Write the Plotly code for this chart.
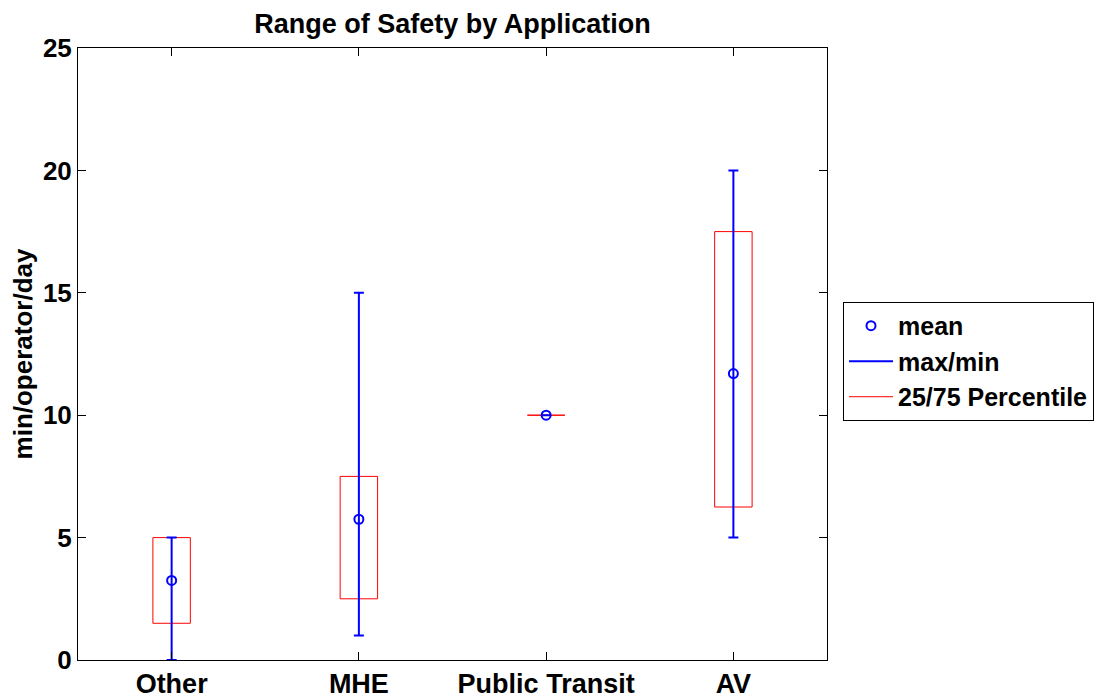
import plotly.graph_objects as go

categories = ["Other", "MHE", "Public Transit", "AV"]
mean_vals = [3.25, 5.75, 10.0, 11.7]
min_vals = [0.0, 1.0, 10.0, 5.0]
max_vals = [5.0, 15.0, 10.0, 20.0]
p25_vals = [1.5, 2.5, 10.0, 6.25]
p75_vals = [5.0, 7.5, 10.0, 17.5]
y_ticks = [0, 5, 10, 15, 20, 25]

pos = list(range(1, len(categories) + 1))
half_w = 0.1
FONT = "Liberation Sans, Arial, sans-serif"

fig = go.Figure()

# 25/75 percentile boxes
bx, by = [], []
for p, lo, hi in zip(pos, p25_vals, p75_vals):
    bx += [p - half_w, p + half_w, p + half_w, p - half_w, p - half_w, None]
    by += [lo, lo, hi, hi, lo, None]
fig.add_trace(go.Scatter(x=bx, y=by, mode="lines", line=dict(color="red", width=1),
                         name="25/75 Percentile", showlegend=False, hoverinfo="skip"))

# max/min error bars
fig.add_trace(go.Scatter(
    x=pos, y=mean_vals, mode="markers", marker=dict(opacity=0),
    error_y=dict(type="data", symmetric=False,
                 array=[mx - m for mx, m in zip(max_vals, mean_vals)],
                 arrayminus=[m - mn for m, mn in zip(mean_vals, min_vals)],
                 color="blue", thickness=2, width=5),
    showlegend=False, hoverinfo="skip"))

# mean markers
fig.add_trace(go.Scatter(x=pos, y=mean_vals, mode="markers", name="mean",
                         marker=dict(symbol="circle-open", size=9, color="blue",
                                     line=dict(width=2, color="blue"))))
# legend entries
fig.add_trace(go.Scatter(x=[None], y=[None], mode="lines", name="max/min",
                         line=dict(color="blue", width=2)))
fig.add_trace(go.Scatter(x=[None], y=[None], mode="lines", name="25/75 Percentile",
                         line=dict(color="red", width=1)))

axis_common = dict(showline=True, linecolor="black", linewidth=1, mirror="ticks",
                   ticks="inside", ticklen=8, tickcolor="black", showgrid=False,
                   zeroline=False, automargin=False)

fig.update_layout(
    width=1097, height=690,
    margin=dict(l=70, r=277, t=40, b=38),
    paper_bgcolor="white", plot_bgcolor="white",
    title=dict(text="Range of Safety by Application", x=0.5, xref="paper", xanchor="center",
               y=0.978, yanchor="middle", yref="container", automargin=False,
               font=dict(family=FONT, size=27, color="black", weight="bold")),
    xaxis=dict(range=[0.5, 4.5], tickvals=pos, ticktext=categories,
               tickfont=dict(family=FONT, size=27, color="black", weight="bold"),
               **axis_common),
    yaxis=dict(range=[0, 25], tickvals=y_ticks,
               tickfont=dict(family=FONT, size=26, color="black", weight="bold"),
               title=dict(text="min/operator/day", standoff=2,
                          font=dict(family=FONT, size=26, color="black", weight="bold")),
               **axis_common),
    legend=dict(x=1.02, xanchor="left", y=0.585, yanchor="top",
                bordercolor="black", borderwidth=1, bgcolor="white",
                font=dict(family=FONT, size=25, color="black", weight="bold"),
                itemwidth=44, tracegroupgap=0),
    showlegend=True,
)

fig.write_html("out.html")
